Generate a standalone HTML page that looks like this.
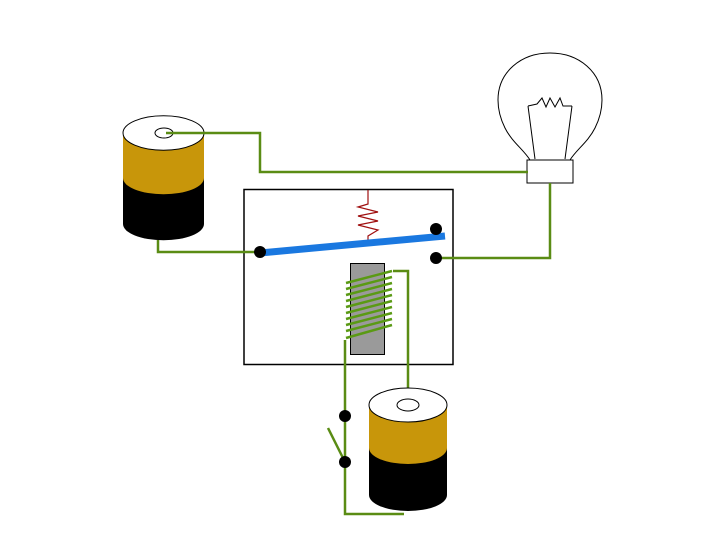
<!DOCTYPE html>
<html><head><style>body{margin:0;background:#fff}</style></head><body>
<svg width="720" height="540" viewBox="0 0 720 540" xmlns="http://www.w3.org/2000/svg">
<rect width="720" height="540" fill="#fff"/>
<!-- battery 1 -->
<path d="M123 133 V224 A40 16 0 0 0 204 224 V133 Z" fill="#000"/>
<path d="M123 133 V178 A40 16 0 0 0 204 178 V133 Z" fill="#c8960a"/>
<path d="M123 133 A40 17 0 0 0 204 133 A40 17 0 0 0 123 133 Z" fill="#fff" stroke="#000" stroke-width="1"/>
<ellipse cx="164" cy="133" rx="9" ry="5" fill="#fff" stroke="#000"/>
<!-- bulb -->
<path d="M530 160 C524 150 512 142 505 128 C500 118 498 110 498 100 C498 72 521 53 550 53 C579 53 602 72 602 100 C602 110 600 118 595 128 C588 142 576 150 570 160" fill="#fff" stroke="#000"/>
<path d="M535 159 L528 106 M565 159 L572 106 M528 106 L537 104 L542 98 L546 107 L550 98 L555 107 L560 98 L563 106 L572 106" fill="none" stroke="#000"/>
<rect x="527" y="160" width="46" height="23" fill="#fff" stroke="#000"/>
<!-- relay box -->
<rect x="244" y="189.5" width="209" height="175" fill="#fff" stroke="#000" stroke-width="1.5"/>
<!-- wires -->
<g fill="none" stroke="#5a8c14" stroke-width="2.5">
<path d="M166 133 H260 V172 H528"/>
<path d="M550 183 V258 H436"/>
<path d="M158 240 V252 H260"/>
<path d="M393 271 H408 V405"/>
<path d="M345 340 V462 V514 H404"/>
<path d="M345 462 L328 428"/>
</g>
<!-- spring -->
<path d="M368 190 V204 L358 207 L378 212 L358 216 L378 221 L358 225 L378 230 L368 236 V240" fill="none" stroke="#a01010" stroke-width="1.2"/>
<!-- core -->
<rect x="350.5" y="263.5" width="34" height="91" fill="#9a9a9a" stroke="#000"/>
<!-- coil -->
<g stroke="#5a9a14" stroke-width="2.5">
<line x1="346" y1="283" x2="392" y2="271"/>
<line x1="346" y1="289" x2="392" y2="277"/>
<line x1="346" y1="295" x2="392" y2="283"/>
<line x1="346" y1="301" x2="392" y2="289"/>
<line x1="346" y1="307" x2="392" y2="295"/>
<line x1="346" y1="313" x2="392" y2="301"/>
<line x1="346" y1="319" x2="392" y2="307"/>
<line x1="346" y1="325" x2="392" y2="313"/>
<line x1="346" y1="331" x2="392" y2="319"/>
<line x1="346" y1="338" x2="392" y2="325"/>
</g>
<!-- lever -->
<line x1="260" y1="253" x2="445" y2="236" stroke="#1a78e0" stroke-width="7"/>
<circle cx="260" cy="252" r="6" fill="#000"/>
<circle cx="436" cy="229" r="6" fill="#000"/>
<circle cx="436" cy="258" r="6" fill="#000"/>
<!-- battery 2 -->
<path d="M369 405 V495 A39 16 0 0 0 447 495 V405 Z" fill="#000"/>
<path d="M369 405 V448 A39 16 0 0 0 447 448 V405 Z" fill="#c8960a"/>
<path d="M369 405 A39 17 0 0 0 447 405 A39 17 0 0 0 369 405 Z" fill="#fff" stroke="#000"/>
<ellipse cx="408" cy="405" rx="11" ry="6" fill="#fff" stroke="#000"/>
<circle cx="345" cy="416" r="6" fill="#000"/>
<circle cx="345" cy="462" r="6" fill="#000"/>
</svg>
</body></html>
